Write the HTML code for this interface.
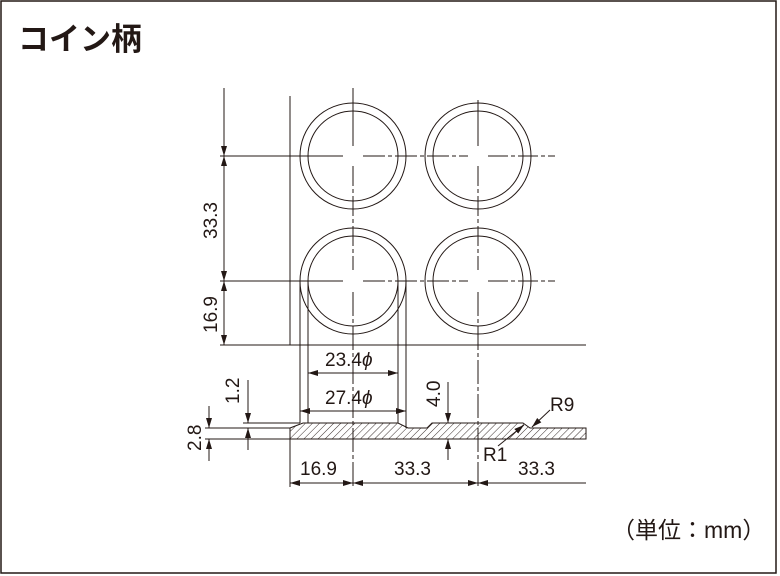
<!DOCTYPE html>
<html><head><meta charset="utf-8"><style>
html,body{margin:0;padding:0;background:#fff;}
svg{display:block;}
text{font-family:"Liberation Sans","Noto Sans CJK JP",sans-serif;fill:#231815;}
</style></head><body>
<svg width="780" height="576" viewBox="0 0 780 576" xmlns="http://www.w3.org/2000/svg">
<defs>
<marker id="a" viewBox="0 0 10 6" refX="10" refY="3" markerWidth="10" markerHeight="6" markerUnits="userSpaceOnUse" orient="auto-start-reverse"><path d="M0,0 L10,3 L0,6 z" fill="#231815"/></marker>
<pattern id="h" patternUnits="userSpaceOnUse" width="5" height="5" patternTransform="rotate(45)"><line x1="0" y1="0" x2="0" y2="5" stroke="#231815" stroke-width="0.9"/></pattern>
</defs>
<rect x="1" y="1" width="775" height="572" fill="none" stroke="#231815" stroke-width="1.5"/>
<text x="18" y="50" font-size="31" font-weight="bold">コイン柄</text>
<text x="612" y="538" font-size="23">（単位：mm）</text>
<g stroke="#231815" stroke-width="1" fill="none">
<!-- circles -->
<circle cx="353" cy="156" r="53"/><circle cx="353" cy="156" r="45"/>
<circle cx="478" cy="156" r="53"/><circle cx="478" cy="156" r="45"/>
<circle cx="353" cy="281" r="53"/><circle cx="353" cy="281" r="45"/>
<circle cx="478" cy="281" r="53"/><circle cx="478" cy="281" r="45"/>
<!-- center lines -->
<line x1="220" y1="156" x2="343" y2="156"/><line x1="363" y1="156" x2="468" y2="156" stroke-dasharray="22,3,4,3"/>
<line x1="488" y1="156" x2="555" y2="156" stroke-dasharray="20,3,4,3"/>
<line x1="220" y1="281" x2="343" y2="281"/><line x1="363" y1="281" x2="468" y2="281" stroke-dasharray="22,3,4,3"/>
<line x1="488" y1="281" x2="555" y2="281" stroke-dasharray="20,3,4,3"/>
<line x1="353" y1="88" x2="353" y2="146"/><line x1="353" y1="166" x2="353" y2="270" stroke-dasharray="20,3,4,3"/><line x1="353" y1="292" x2="353" y2="487" stroke-dasharray="24,3,4,3"/>
<line x1="478" y1="100" x2="478" y2="146"/><line x1="478" y1="166" x2="478" y2="270" stroke-dasharray="20,3,4,3"/><line x1="478" y1="292" x2="478" y2="487" stroke-dasharray="24,3,4,3"/>
<!-- frame lines -->
<line x1="290" y1="96" x2="290" y2="345"/>
<line x1="220" y1="345" x2="586" y2="345"/>
<line x1="300" y1="281" x2="300" y2="423"/><line x1="308" y1="281" x2="308" y2="423"/>
<line x1="398" y1="281" x2="398" y2="423"/><line x1="406" y1="281" x2="406" y2="428"/>
<!-- left vertical dims -->
<line x1="224" y1="88" x2="224" y2="156" marker-end="url(#a)"/>
<line x1="224" y1="156" x2="224" y2="281" marker-start="url(#a)" marker-end="url(#a)"/>
<line x1="224" y1="281" x2="224" y2="345" marker-start="url(#a)" marker-end="url(#a)"/>
<!-- profile -->
<path d="M290,428 L303,423 L398,423 L408,428 L427,428 L432,423 L523,423 L530,428 L586,428 L586,439 L290,439 Z" fill="url(#h)"/>
<!-- ext lines -->
<line x1="243" y1="423" x2="300" y2="423"/>
<line x1="205" y1="428" x2="290" y2="428"/>
<line x1="205" y1="439" x2="290" y2="439"/>
<!-- 1.2 -->
<line x1="248" y1="380" x2="248" y2="423" marker-end="url(#a)"/>
<line x1="248" y1="450" x2="248" y2="428" marker-end="url(#a)"/>
<!-- 2.8 -->
<line x1="209" y1="406" x2="209" y2="428" marker-end="url(#a)"/>
<line x1="209" y1="461" x2="209" y2="439" marker-end="url(#a)"/>
<!-- 4.0 -->
<line x1="448" y1="382" x2="448" y2="423" marker-end="url(#a)"/>
<line x1="448" y1="460" x2="448" y2="439" marker-end="url(#a)"/>
<!-- diameters -->
<line x1="308" y1="373" x2="398" y2="373" marker-start="url(#a)" marker-end="url(#a)"/>
<line x1="300" y1="411" x2="406" y2="411" marker-start="url(#a)" marker-end="url(#a)"/>
<!-- bottom dims -->
<line x1="290" y1="439" x2="290" y2="487"/>
<line x1="290" y1="483" x2="353" y2="483" marker-start="url(#a)" marker-end="url(#a)"/>
<line x1="353" y1="483" x2="478" y2="483" marker-start="url(#a)" marker-end="url(#a)"/>
<line x1="478" y1="483" x2="586" y2="483" marker-start="url(#a)"/>
<!-- R leaders -->
<line x1="550" y1="410" x2="532" y2="427" marker-end="url(#a)"/>
<line x1="498" y1="446" x2="524" y2="425" marker-end="url(#a)"/>
</g>
<g font-size="19">
<text x="325" y="366">23.4<tspan font-style="italic">ϕ</tspan></text>
<text x="325" y="404">27.4<tspan font-style="italic">ϕ</tspan></text>
<text x="300" y="475">16.9</text>
<text x="394" y="475">33.3</text>
<text x="518" y="475">33.3</text>
<text x="550" y="411">R9</text>
<text x="483" y="461">R1</text>
<text transform="translate(217,239) rotate(-90)">33.3</text>
<text transform="translate(217,333) rotate(-90)">16.9</text>
<text transform="translate(239,404) rotate(-90)">1.2</text>
<text transform="translate(201,451) rotate(-90)">2.8</text>
<text transform="translate(440,407) rotate(-90)">4.0</text>
</g>
</svg>
</body></html>
